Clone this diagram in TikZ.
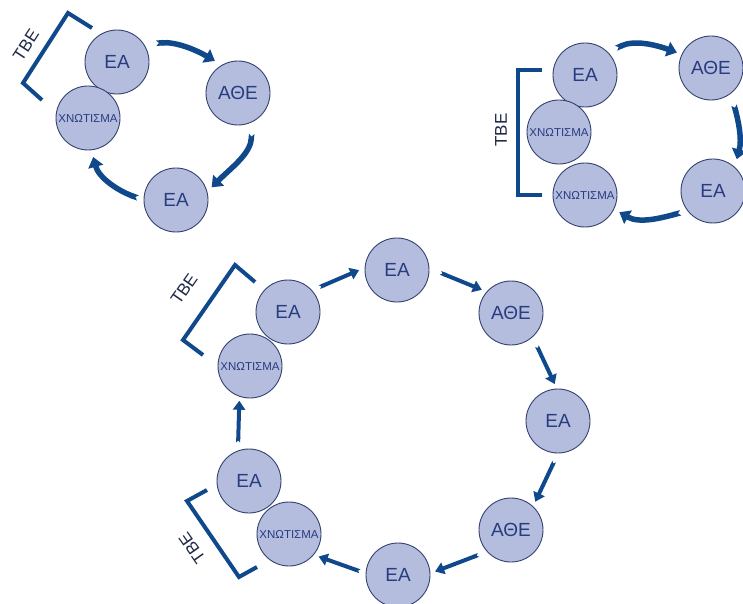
\documentclass[tikz,border=0pt]{standalone}
\usepackage{fontspec}
\setmainfont{Liberation Sans}
\usetikzlibrary{arrows.meta}
\definecolor{cfill}{RGB}{180,189,222}
\definecolor{cline}{RGB}{52,66,112}
\definecolor{ctext}{RGB}{40,60,128}
\definecolor{cblue}{RGB}{16,72,140}
\definecolor{ctbe}{RGB}{30,40,70}
\tikzset{
  bub/.style={circle,draw=cline,line width=0.9pt,fill=cfill,minimum size=64pt,inner sep=0pt,text=ctext,font=\fontsize{19}{19}\selectfont},
  bubs/.style={bub,font=\fontsize{11.5}{11.5}\selectfont},
  arrbig/.style={draw=cblue,line width=5.5pt,arrows={Triangle Cap[reversed]-Triangle[length=10pt,width=15pt]}},
  arrsm/.style={draw=cblue,line width=4pt,arrows={Triangle Cap[reversed]-Triangle[length=9pt,width=12pt]}},
  brk/.style={draw=cblue,line width=4pt,miter limit=10},
  tbe/.style={text=ctbe,font=\fontsize{17}{17}\selectfont,inner sep=0pt}
}
\begin{document}
\begin{tikzpicture}[x=1pt,y=1pt]
\useasboundingbox (0,0) rectangle (743,603);
% ---------- top-left cycle ----------
\node[bub] (ea1) at (117,541) {ΕΑ};
\node[bub] (athe1) at (238,510) {ΑΘΕ};
\node[bub] (ea2) at (176,403) {ΕΑ};
\node[bubs] (x1) at (88,485) {ΧΝΩΤΙΣΜΑ};
\draw[arrbig,shorten <=12pt,shorten >=8pt] (ea1.33) to[out=5,in=150] (athe1.120);
\draw[arrbig,shorten <=12pt,shorten >=6pt] (athe1.-63) to[out=-95,in=45] (ea2.15);
\draw[arrbig,shorten <=6pt,shorten >=7pt] (ea2.180) to[out=160,in=-75] (x1.-84);
\coordinate (b1a) at (92,575);
\coordinate (b1b) at (68,590);
\coordinate (b1c) at (23,520);
\coordinate (b1d) at (42,503);
\draw[brk] (b1a) -- (b1b) -- (b1c) -- (b1d);
\node[tbe,rotate=57] (t1) at (26,558) {ΤΒΕ};
% ---------- top-right cycle ----------
\node[bub] (ea3) at (585,528) {ΕΑ};
\node[bub] (athe2) at (711,535) {ΑΘΕ};
\node[bubs] (x2) at (559,471) {ΧΝΩΤΙΣΜΑ};
\node[bubs] (x3) at (585,408) {ΧΝΩΤΙΣΜΑ};
\node[bub] (ea4) at (713,412) {ΕΑ};
\draw[arrbig,shorten <=9pt,shorten >=5pt] (ea3.45) to[out=25,in=160] (athe2.155);
\draw[arrbig,shorten <=12pt,shorten >=8pt] (athe2.-52) to[out=-75,in=75] (ea4.48);
\draw[arrbig,shorten <=7pt,shorten >=6pt] (ea4.218) to[out=195,in=-30] (x3.-26);
\coordinate (b2a) at (542,533);
\coordinate (b2b) at (518,533);
\coordinate (b2c) at (518,408);
\coordinate (b2d) at (542,408);
\draw[brk] (b2a) -- (b2b) -- (b2c) -- (b2d);
\node[tbe,rotate=90] (t2) at (501,473) {ΤΒΕ};
% ---------- bottom cycle ----------
\node[bub] (ea5) at (288,291) {ΕΑ};
\node[bubs] (x5) at (250,237) {ΧΝΩΤΙΣΜΑ};
\node[bub] (ea6) at (397,333) {ΕΑ};
\node[bub] (athe3) at (511,290) {ΑΘΕ};
\node[bub] (ea7) at (558,182) {ΕΑ};
\node[bub] (athe4) at (511,73) {ΑΘΕ};
\node[bub] (ea8) at (398,28) {ΕΑ};
\node[bub] (ea9) at (249,122) {ΕΑ};
\node[bubs] (x4) at (289,69) {ΧΝΩΤΙΣΜΑ};
\draw[arrsm,shorten <=8pt,shorten >=6pt] (ea5.42) -- (ea6.176);
\draw[arrsm,shorten <=12pt,shorten >=5pt] (ea6.3) -- (athe3.139);
\draw[arrsm,shorten <=10pt,shorten >=5pt] (athe3.-48) -- (ea7.92);
\draw[arrsm,shorten <=9pt,shorten >=5pt] (ea7.-90) -- (athe4.47);
\draw[arrsm,shorten <=9pt,shorten >=5pt] (athe4.222) -- (ea8.3);
\draw[arrsm,shorten <=6pt,shorten >=5pt] (ea8.177) -- (x4.-40);
\draw[arrsm,shorten <=8pt,shorten >=4pt] (ea9.110) -- (x5.251);
\coordinate (b3a) at (255,321);
\coordinate (b3b) at (235,338);
\coordinate (b3c) at (183,263);
\coordinate (b3d) at (203,248);
\draw[brk] (b3a) -- (b3b) -- (b3c) -- (b3d);
\node[tbe,rotate=55] (t3) at (184,314) {ΤΒΕ};
\coordinate (b4a) at (207,113);
\coordinate (b4b) at (187,102);
\coordinate (b4c) at (239,26);
\coordinate (b4d) at (257,36);
\draw[brk] (b4a) -- (b4b) -- (b4c) -- (b4d);
\node[tbe,rotate=125] (t4) at (192,55) {ΤΒΕ};
\end{tikzpicture}
\end{document}
